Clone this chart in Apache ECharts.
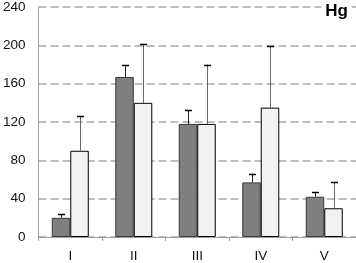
<!DOCTYPE html>
<html><head><meta charset="utf-8">
<script src="https://cdn.jsdelivr.net/npm/echarts@6/dist/echarts.min.js"></script>
<style>html,body{margin:0;padding:0;background:#fff}#c{width:356px;height:263px}</style>
</head><body><div id="c"></div>
<script>
var categories = ['I','II','III','IV','V'];
var darkValues = [20, 167, 118, 57, 42];
var darkErrTop = [24, 179, 132, 66, 47];
var lightValues = [90, 140, 118, 135, 30];
var lightErrTop = [126, 201, 180, 199, 57];
var yTicks = {min: 0, max: 240, interval: 40};

var BW = 18.5;
var chart = echarts.init(document.getElementById('c'));
function errSeries(tops, vals, side, color) {
  return {
    type: 'custom', z: 5,
    data: tops.map(function (t, i) { return [i, vals[i], t]; }),
    renderItem: function (params, api) {
      var base = api.coord([api.value(0), api.value(1)]);
      var top = api.coord([api.value(0), api.value(2)]);
      var x = Math.round(base[0] + side * BW / 2) + 0.5;
      return {
        type: 'group',
        children: [
          {type: 'line', shape: {x1: x, y1: base[1], x2: x, y2: top[1]}, style: {stroke: color, lineWidth: 1}},
          {type: 'line', shape: {x1: x - 3.5, y1: Math.round(top[1]) + 0.5, x2: x + 3.5, y2: Math.round(top[1]) + 0.5}, style: {stroke: '#000', lineWidth: 1.5}}
        ]
      };
    }
  };
}
chart.setOption({
  animation: false,
  title: {text: 'Hg', right: 4, top: 1, padding: [2, 4, 2, 4], backgroundColor: '#fff',
    textStyle: {fontSize: 17, fontWeight: 'bold', color: '#000', fontFamily: 'Liberation Sans'}},
  grid: {left: 36, right: 0, top: 5, bottom: 25},
  xAxis: {
    type: 'category', data: categories,
    axisLine: {lineStyle: {color: '#a0a0a0'}},
    axisTick: {show: true, length: 4, lineStyle: {color: '#a0a0a0'}},
    axisLabel: {margin: 12, fontSize: 13.5, color: '#111', fontFamily: 'Liberation Sans'}
  },
  yAxis: {
    type: 'value', min: yTicks.min, max: yTicks.max, interval: yTicks.interval,
    axisLine: {show: true, lineStyle: {color: '#a0a0a0'}},
    axisTick: {show: false},
    axisLabel: {margin: 13, fontSize: 13.5, color: '#111', fontFamily: 'Liberation Sans'},
    splitLine: {lineStyle: {color: '#a8a8a8', type: [8, 4], width: 1.5}}
  },
  series: [
    {type: 'bar', data: darkValues, barWidth: BW, barGap: '0%',
      itemStyle: {color: '#7f7f7f', borderColor: '#3a3a3a', borderWidth: 1}},
    {type: 'bar', data: lightValues, barWidth: BW, barGap: '0%',
      itemStyle: {color: '#f2f2f2', borderColor: '#000', borderWidth: 1}},
    errSeries(darkErrTop, darkValues, -1, '#222'),
    errSeries(lightErrTop, lightValues, 1, '#666')
  ]
});
</script></body></html>
